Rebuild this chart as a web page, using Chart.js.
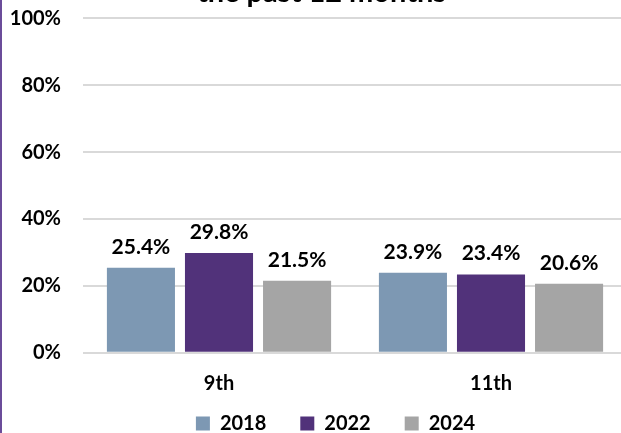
<!DOCTYPE html>
<html><head><meta charset="utf-8">
<script src="https://cdn.jsdelivr.net/npm/chart.js@4"></script>
<style>
html,body{margin:0;padding:0;background:#fff;}
#wrap{position:relative;width:621px;height:433px;overflow:hidden;background:#fff;}
#box{position:absolute;left:0;top:-25px;width:627px;height:458px;}
#edge{position:absolute;left:0;top:0;width:2px;height:433px;background:#6b4c9a;z-index:2;}
</style></head><body>
<div id="wrap"><div id="box"><canvas id="c" width="627" height="458"></canvas></div><div id="edge"></div></div>
<script>
const categories = ['9th', '11th'];
const seriesNames = ['2018', '2022', '2024'];
const values2018 = [25.4, 23.9];
const values2022 = [29.8, 23.4];
const values2024 = [21.5, 20.6];
const seriesColors = ['#7d98b3', '#51327a', '#a5a5a5'];
const yTicks = [0, 20, 40, 60, 80, 100];
const titleText = 'the past 12 months';

const FONT = 'Lato';
const allValues = [values2018, values2022, values2024];

const tweaks = {
  id: 'tweaks',
  afterUpdate(chart) {
    const l = chart.legend;
    if (l) { l.left += 22; l.right += 22; l.top -= 23.2; l.bottom -= 23.2; }
    const t = chart.titleBlock; if (t) { t.left += 8; t.right += 8; }
  },
  afterDatasetsDraw(chart) {
    const ctx = chart.ctx;
    ctx.save();
    ctx.font = 'bold 21px ' + FONT;
    ctx.fillStyle = '#000';
    ctx.textAlign = 'center';
    ctx.textBaseline = 'alphabetic';
    chart.data.datasets.forEach((ds, i) => {
      const meta = chart.getDatasetMeta(i);
      meta.data.forEach((bar, j) => {
        ctx.fillText(ds.data[j].toFixed(1) + '%', bar.x, bar.y - 14);
      });
    });
    ctx.restore();
  }
};

new Chart(document.getElementById('c'), {
  type: 'bar',
  data: {
    labels: categories,
    datasets: seriesNames.map((name, i) => ({
      label: name,
      data: allValues[i],
      backgroundColor: seriesColors[i],
      borderWidth: 0,
      categoryPercentage: 0.861,
      barPercentage: 0.872
    }))
  },
  options: {
    responsive: false,
    animation: false,
    devicePixelRatio: 1,
    layout: { padding: { left: 0, right: 0, top: 0, bottom: -33.7 } },
    plugins: {
      title: {
        display: true,
        text: titleText,
        color: '#000',
        font: { family: FONT, size: 29, weight: 'bold', lineHeight: 1.2 },
        padding: { top: 0, bottom: 8.5 }
      },
      legend: {
        position: 'bottom',
        labels: {
          boxWidth: 14, boxHeight: 14, padding: 34, color: '#000',
          font: { family: FONT, size: 20, weight: 'bold' }
        }
      },
      tooltip: { enabled: false }
    },
    scales: {
      x: {
        grid: { display: false, drawTicks: false },
        border: { display: false },
        ticks: { color: '#000', padding: 19, font: { family: FONT, size: 20, weight: 'bold' } },
        afterFit(s) { s.height = 50; }
      },
      y: {
        min: 0, max: 100,
        afterBuildTicks(s) { s.ticks = yTicks.map(v => ({ value: v })); },
        afterFit(s) { s.width = 83; },
        grid: { color: '#d9d9d9', lineWidth: 2, drawTicks: false },
        border: { display: false },
        ticks: {
          color: '#000', padding: 22,
          font: { family: FONT, size: 20, weight: 'bold' },
          callback: v => v + '%'
        }
      }
    }
  },
  plugins: [tweaks]
});
</script>
</body></html>
